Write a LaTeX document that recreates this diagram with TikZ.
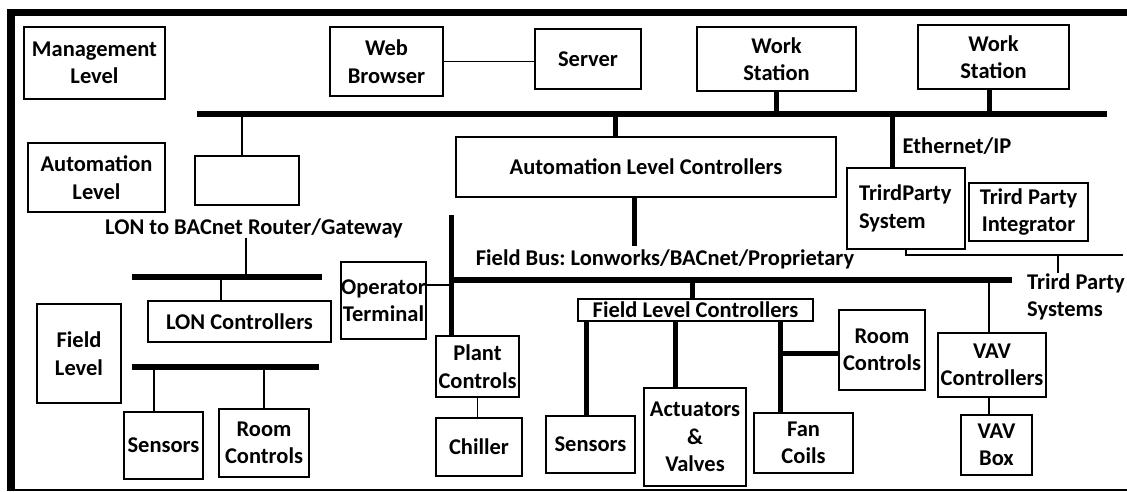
\documentclass[tikz,border=0pt]{standalone}
\usepackage{fontspec}
\setmainfont{Carlito}
\frenchspacing
\begin{document}
\begin{tikzpicture}[x=1pt,y=-1pt,
  every node/.style={font=\fontsize{22.5}{27.5}\selectfont\bfseries, text=black},
  box/.style={draw, line width=1.8pt, inner sep=0pt, align=center},
  lbl/.style={inner sep=0pt, align=center},
  thinwire/.style={line width=1.8pt},
  wire/.style={line width=5pt},
  busline/.style={line width=6.5pt}]
\useasboundingbox (0,0) rectangle (1127,492);

% outer frame
\draw[line width=7.5pt] (7,12.5) -- (1127,12.5);
\draw[line width=8pt] (11,9) -- (11,490);
\draw[line width=2pt] (7,490) -- (1127,490);

% level captions
\node[box, minimum width=141, minimum height=72] (mgmt) at (94.5,63) {Management\\Level};
\node[box, minimum width=137, minimum height=69] (autolvl) at (96.5,177.5) {Automation\\Level};
\node[box, minimum width=84, minimum height=99] (fieldlvl) at (79,353.5) {Field\\Level};

% management level
\node[box, minimum width=113, minimum height=69] (web) at (386.5,61.5) {Web\\Browser};
\node[box, minimum width=106, minimum height=60] (server) at (588,59) {Server};
\node[box, minimum width=159, minimum height=64] (ws1) at (776.5,59) {Work\\Station};
\node[box, minimum width=151, minimum height=64] (ws2) at (993.5,57) {Work\\Station};
\draw[thinwire] (web.east) -- (web.east -| server.west);

% ethernet backbone
\coordinate (busL) at (197,114);
\coordinate (busR) at (1107,114);
\draw[busline] (busL) -- (busR);
\draw[wire] (ws1.south) -- (ws1.south |- busL);
\draw[wire] ([xshift=-4]ws2.south) -- ([xshift=-4]ws2.south |- busL);

% automation level
\node[box, minimum width=104, minimum height=49] (router) at (247,180.5) {};
\draw[thinwire] ([xshift=-5]router.north) -- ([xshift=-5]router.north |- busL);
\node[lbl] (gwlabel) at (254,228) {LON to BACnet Router/Gateway};

\node[box, minimum width=380, minimum height=60] (alc) at (646,167) {Automation Level Controllers};
\draw[wire] ([xshift=-31]alc.north) -- ([xshift=-31]alc.north |- busL);

\node[lbl] (eth) at (957,146) {Ethernet/IP};
\node[box, minimum width=118, minimum height=81, text width=94, inner xsep=12pt, inner ysep=0pt, align=left] (tps) at (906,208.5) {TrirdParty\\System\\[-8pt]};
\draw[wire] ([xshift=-14]tps.north) -- ([xshift=-14]tps.north |- busL);
\node[box, minimum width=119, minimum height=58] (tpi) at (1028.5,212) {Trird Party\\Integrator};

% third party link
\coordinate (tpEnd) at (1123,255);
\coordinate (tick) at (1058,255);
\node[lbl, anchor=west, align=left] (tpsys) at (1027,297) {Trird Party\\Systems};
\draw[thinwire] (tps.south) -- (tps.south |- tpEnd) -- (tpEnd);
\draw[thinwire] (tick) -- (tick |- tpsys.north);

% field bus
\coordinate (fbT) at (451,215);
\coordinate (fbL) at (451,280);
\coordinate (fbR) at (1012,280);
\draw[wire] ([xshift=-12]alc.south) -- ++(0,48);
\node[lbl] (fblabel) at (665,259) {Field Bus: Lonworks/BACnet/Proprietary};
\draw[busline] (fbL) -- (fbR);

\node[box, minimum width=85, minimum height=77] (opt) at (383.5,300.5) {Operator\\Terminal};
\node[box, minimum width=83, minimum height=61] (plant) at (477.5,366.5) {Plant\\Controls};
\node[box, minimum width=86, minimum height=58] (chiller) at (479,447) {Chiller};
\draw[wire] (fbT) -- (fbT |- plant.north);
\draw[thinwire] ([yshift=15.5]opt.east) -- ([yshift=15.5]opt.east -| fbT);
\draw[thinwire] (plant.south) -- (plant.south |- chiller.north);

% field level controllers
\node[box, minimum width=235, minimum height=22] (flc) at (695.5,310) {Field Level Controllers};
\draw[wire] ([xshift=-3.5]flc.north) -- ([xshift=-3.5]flc.north |- fbL);
\node[box, minimum width=89, minimum height=57] (sens2) at (590.5,444.5) {Sensors};
\node[box, minimum width=102, minimum height=98] (act) at (695,437) {Actuators\\\&\\Valves};
\node[box, minimum width=99, minimum height=60] (fan) at (803.5,443) {Fan\\Coils};
\node[box, minimum width=86, minimum height=80] (room2) at (882,350) {Room\\Controls};
\draw[wire] ([xshift=-4.5]sens2.north) -- ([xshift=-4.5]sens2.north |- flc.south);
\draw[wire] ([xshift=-20]act.north) -- ([xshift=-20]act.north |- flc.south);
\draw[wire] ([xshift=-23.5]fan.north) -- ([xshift=-23.5]fan.north |- flc.south);
\draw[wire] ([xshift=-23.5]fan.north |- 0,353) -- (room2.west |- 0,353);

% VAV branch
\node[box, minimum width=108, minimum height=64] (vavc) at (992,365) {VAV\\Controllers};
\node[box, minimum width=71, minimum height=60] (vavbox) at (996.5,445) {VAV\\Box};
\draw[thinwire] ([xshift=-3]vavc.north) -- ([xshift=-3]vavc.north |- fbR);
\draw[thinwire] ([xshift=-3]vavc.south) -- ([xshift=-3]vavc.south |- vavbox.north);

% LON subnet
\coordinate (lon1L) at (132,277);
\coordinate (lon1R) at (322,277);
\coordinate (lon2L) at (132,367);
\coordinate (lon2R) at (319,367);
\draw[busline] (lon1L) -- (lon1R);
\draw[busline] (lon2L) -- (lon2R);
\draw[thinwire] ([xshift=-8]gwlabel.south) -- ([xshift=-8]gwlabel.south |- lon1L);
\node[box, minimum width=183, minimum height=41] (lonc) at (239.5,321.5) {LON Controllers};
\draw[thinwire] ([xshift=-18.5]lonc.north) -- ([xshift=-18.5]lonc.north |- lon1L);
\node[box, minimum width=79, minimum height=67] (sens1) at (163.5,445.5) {Sensors};
\node[box, minimum width=90, minimum height=68] (room1) at (264,443) {Room\\Controls};
\draw[thinwire] ([xshift=-9.5]sens1.north) -- ([xshift=-9.5]sens1.north |- lon2L);
\draw[thinwire] (room1.north) -- (room1.north |- lon2L);
\end{tikzpicture}
\end{document}
